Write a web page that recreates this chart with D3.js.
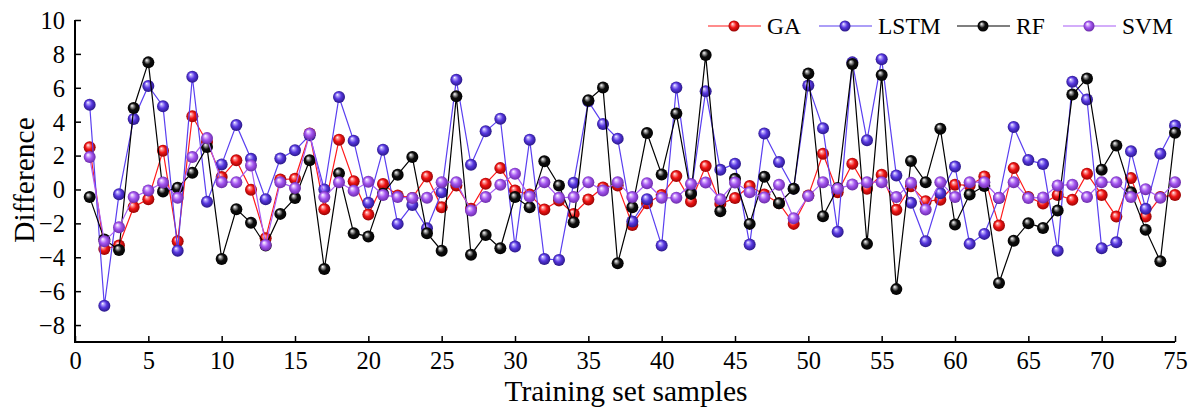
<!DOCTYPE html>
<html>
<head>
<meta charset="utf-8">
<script src="https://cdn.jsdelivr.net/npm/d3@7"></script>
<style>
  html, body { margin: 0; padding: 0; background: #fff; }
  svg { display: block; }
  text { font-family: "Liberation Serif", "Times New Roman", serif; fill: #000; }
</style>
</head>
<body>
<svg id="chart" width="1194" height="410"></svg>
<script>
// Prediction differences on the training set samples, one series per model
const samples = d3.range(1, 76);

const gaValues = [
  2.49, -3.51, -3.31, -1.03, -0.57, 2.29, -3.06, 4.32, 2.8, 0.73,
  1.72, -0.02, -2.88, 0.59, 0.63, 3.3, -1.16, 2.94, 0.49, -1.48,
  0.32, -0.35, -0.5, 0.77, -1.05, 0.24, -1.14, 0.34, 1.26, -0.06,
  -0.3, -1.18, -0.65, -1.44, -0.59, 0.12, 0.24, -2.09, -0.81, -0.32,
  0.79, -0.71, 1.38, -0.85, -0.51, 0.2, -0.3, -0.81, -2.03, -0.36,
  2.11, -0.16, 1.52, 0.04, 0.87, -1.2, 0.19, -0.69, -0.61, 0.28,
  0.24, 0.77, -2.13, 1.26, -0.45, -0.83, -0.32, -0.61, 0.93, -0.32,
  -1.6, 0.67, -1.6, -0.45, -0.32
];

const lstmValues = [
  5.0, -6.86, -0.28, 4.16, 6.11, 4.91, -3.61, 6.65, -0.72, 1.48,
  3.81, 1.81, -0.57, 1.83, 2.31, 3.2, 0.0, 5.46, 2.88, -0.79,
  2.35, -2.03, -0.91, -2.29, -0.16, 6.47, 1.46, 3.43, 4.18, -3.37,
  2.94, -4.1, -4.16, 0.39, 5.2, 3.87, 3.0, -1.89, -0.57, -3.31,
  6.02, -0.2, 5.8, 1.16, 1.52, -3.25, 3.3, 1.62, 0.05, 6.13,
  3.61, -2.49, 7.5, 2.9, 7.69, 0.83, -0.79, -3.06, -0.22, 1.36,
  -3.21, -2.62, -0.5, 3.69, 1.74, 1.5, -3.61, 6.35, 5.31, -3.47,
  -3.12, 2.25, -1.14, 2.11, 3.77
];

const rfValues = [
  -0.45, -2.95, -3.57, 4.81, 7.5, -0.12, 0.1, 0.99, 2.5, -4.1,
  -1.16, -1.97, -3.31, -1.44, -0.51, 1.72, -4.69, 0.95, -2.58, -2.78,
  -0.25, 0.87, 1.91, -2.58, -3.61, 5.5, -3.85, -2.68, -3.47, -0.45,
  -1.05, 1.66, 0.24, -1.93, 5.27, 6.02, -4.36, -1.05, 3.33, 0.89,
  4.48, -0.26, 7.93, -1.28, 0.63, -2.03, 0.75, -0.81, 0.04, 6.84,
  -1.58, 0.08, 7.4, -3.21, 6.75, -5.88, 1.68, 0.43, 3.59, -2.07,
  -0.3, 0.2, -5.52, -3.02, -1.99, -2.27, -1.24, 5.6, 6.55, 1.16,
  2.6, -0.16, -2.37, -4.24, 3.35
];

const svmValues = [
  1.91, -3.06, -2.23, -0.45, -0.06, 0.41, -0.49, 1.91, 3.03, 0.43,
  0.43, 1.42, -3.27, 0.43, 0.08, 3.29, -0.45, 0.43, -0.07, 0.45,
  -0.32, -0.45, -0.51, -0.49, 0.43, 0.43, -1.24, -0.45, 0.28, 0.93,
  -0.41, 0.43, -0.49, -0.45, 0.43, -0.06, 0.43, -0.45, 0.37, -0.49,
  -0.49, 0.32, 0.41, -0.57, 0.41, -0.16, -0.47, 0.28, -1.7, -0.39,
  0.43, 0.04, 0.3, 0.43, 0.43, -0.45, 0.39, -1.18, 0.43, -0.45,
  0.43, 0.43, -0.49, 0.43, -0.51, -0.47, 0.24, 0.28, -0.45, 0.43,
  0.43, -0.45, 0.02, -0.49, 0.43
];

const seriesNames = ["GA", "LSTM", "RF", "SVM"];
const xTicks = d3.range(0, 76, 5);
const yTicks = d3.range(-8, 11, 2);

const series = [
  { name: seriesNames[0], values: gaValues,   line: "#ff1a1a", base: "#f01515", light: "#ffa8a8", dark: "#8a0000" },
  { name: seriesNames[1], values: lstmValues, line: "#5a3ff0", base: "#5838e0", light: "#c0b2ff", dark: "#22127a" },
  { name: seriesNames[2], values: rfValues,   line: "#000000", base: "#0e0e0e", light: "#b8b8b8", dark: "#000000" },
  { name: seriesNames[3], values: svmValues,  line: "#a85cf5", base: "#a456f0", light: "#e6caff", dark: "#62249e" }
];

const svg = d3.select("#chart");
const margin = { left: 75, right: 19, top: 20, bottom: 68 };
const width = 1194, height = 410;

const x = d3.scaleLinear().domain([0, 75]).range([margin.left, width - margin.right]);
const y = d3.scaleLinear().domain([-9, 10]).range([height - margin.bottom, margin.top]);

// shaded sphere markers
const defs = svg.append("defs");
series.forEach((s, i) => {
  const g = defs.append("radialGradient")
    .attr("id", "ball" + i)
    .attr("cx", "50%").attr("cy", "50%").attr("r", "55%")
    .attr("fx", "35%").attr("fy", "30%");
  g.append("stop").attr("offset", "0%").attr("stop-color", "#ffffff");
  g.append("stop").attr("offset", "15%").attr("stop-color", s.light);
  g.append("stop").attr("offset", "50%").attr("stop-color", s.base);
  g.append("stop").attr("offset", "100%").attr("stop-color", s.dark);
});

// axes
const xAxis = d3.axisBottom(x).tickValues(xTicks).tickSizeInner(-6).tickSizeOuter(0).tickPadding(10);
const yAxis = d3.axisLeft(y).tickValues(yTicks).tickSizeInner(-6).tickSizeOuter(0).tickPadding(10);

const gx = svg.append("g")
  .attr("transform", `translate(0,${y(-9)})`)
  .call(xAxis);
const gy = svg.append("g")
  .attr("transform", `translate(${x(0)},0)`)
  .call(yAxis);

[gx, gy].forEach(g => {
  g.select(".domain").attr("stroke", "#000").attr("stroke-width", 2);
  g.selectAll(".tick line").attr("stroke", "#000").attr("stroke-width", 1.5);
  g.selectAll(".tick text")
    .style("font-family", '"Liberation Serif", "Times New Roman", serif')
    .style("font-size", "24.5px")
    .attr("fill", "#000");
});
// axis lines meet at the origin corner
gy.select(".domain").attr("d", `M0,${y(10)}V${y(-9)}`);
gx.select(".domain").attr("d", `M${x(0) - 1},0H${x(75)}`);
gx.selectAll(".tick text").attr("dy", "0.71em");
gy.selectAll(".tick text").attr("dy", "0.34em");

// axis titles
svg.append("text")
  .attr("x", (x(0) + x(75)) / 2 + 1)
  .attr("y", 401)
  .attr("text-anchor", "middle")
  .style("font-size", "29.5px")
  .text("Training set samples");

svg.append("text")
  .attr("transform", `translate(34,${(y(10) + y(-9)) / 2 - 1}) rotate(-90)`)
  .attr("text-anchor", "middle")
  .style("font-size", "29.5px")
  .text("Difference");

// lines and markers
const line = d3.line().x((d, i) => x(samples[i])).y(d => y(d));

series.forEach((s, i) => {
  const g = svg.append("g");
  g.append("path")
    .datum(s.values)
    .attr("d", line)
    .attr("fill", "none")
    .attr("stroke", s.line)
    .attr("stroke-width", 1.2);
  g.selectAll("circle")
    .data(s.values)
    .join("circle")
    .attr("cx", (d, j) => x(samples[j]))
    .attr("cy", d => y(d))
    .attr("r", 6)
    .attr("fill", `url(#ball${i})`);
});

// legend
const legendX = [708, 819, 957, 1063];
const legendY = 26;
series.forEach((s, i) => {
  const g = svg.append("g").attr("transform", `translate(${legendX[i]},${legendY})`);
  g.append("line").attr("x1", 0).attr("x2", 53).attr("y1", 0).attr("y2", 0)
    .attr("stroke", s.line).attr("stroke-width", 1.2);
  g.append("circle").attr("cx", 26).attr("cy", 0).attr("r", 5.5).attr("fill", `url(#ball${i})`);
  g.append("text").attr("x", 59).attr("y", 0).attr("dy", "0.35em")
    .style("font-size", "23.5px").text(s.name);
});
</script>
</body>
</html>
